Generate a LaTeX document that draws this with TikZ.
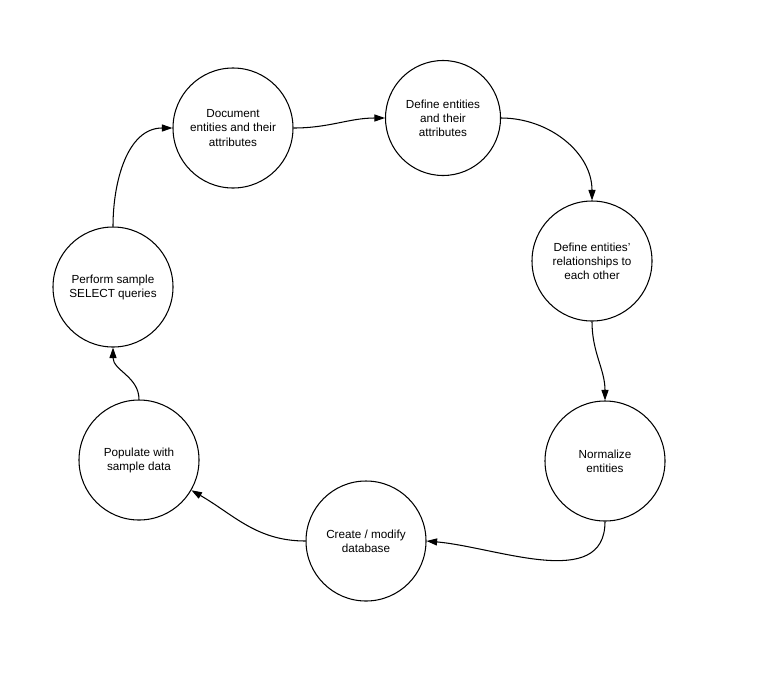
\documentclass[tikz,border=0pt]{standalone}
\usepackage{fontspec}
\setmainfont{Liberation Sans}
\usetikzlibrary{arrows.meta}

\begin{document}
\begin{tikzpicture}[x=0.03cm, y=-0.03cm,
    stage/.style={circle, draw, line width=0.9pt, minimum size=3.6cm, inner sep=0pt,
      align=center, font=\fontsize{10}{12}\selectfont},
    flow/.style={-{Triangle[length=9pt,width=6pt]}, line width=0.9pt}]
      \useasboundingbox (0,0) rectangle (766,693);
      % the seven stages, clockwise from top left
      \node[stage] (document) at (233,128) {Document\\entities and their\\attributes};
      \node[stage, minimum size=3.45cm] (define) at (443,118) {Define entities\\and their\\attributes};
      \node[stage] (relations) at (592,261) {Define entities'\\relationships to\\each other};
      \node[stage] (normalize) at (605,461) {Normalize\\entities};
      \node[stage] (create) at (366,541) {Create / modify\\database};
      \node[stage] (populate) at (139,460) {Populate with\\sample data};
      \node[stage] (perform) at (113,287) {Perform sample\\SELECT queries};
      % connectors
      \draw[flow] (perform.north) to[out=90, in=180] (document.west);
      \draw[flow] (document.east) to[out=0, in=180] (define.west);
      \draw[flow] (define.east) to[out=0, in=90] (relations.north);
      \draw[flow] (relations.south) to[out=-90, in=90] (normalize.north);
      \draw[flow] (normalize.south) to[out=-90, in=-5] (create.east);
      \draw[flow] (create.west) to[out=180, in=-30] (populate.-30);
      \draw[flow] (populate.north) to[out=90, in=-90] (perform.south);
\end{tikzpicture}
\end{document}
